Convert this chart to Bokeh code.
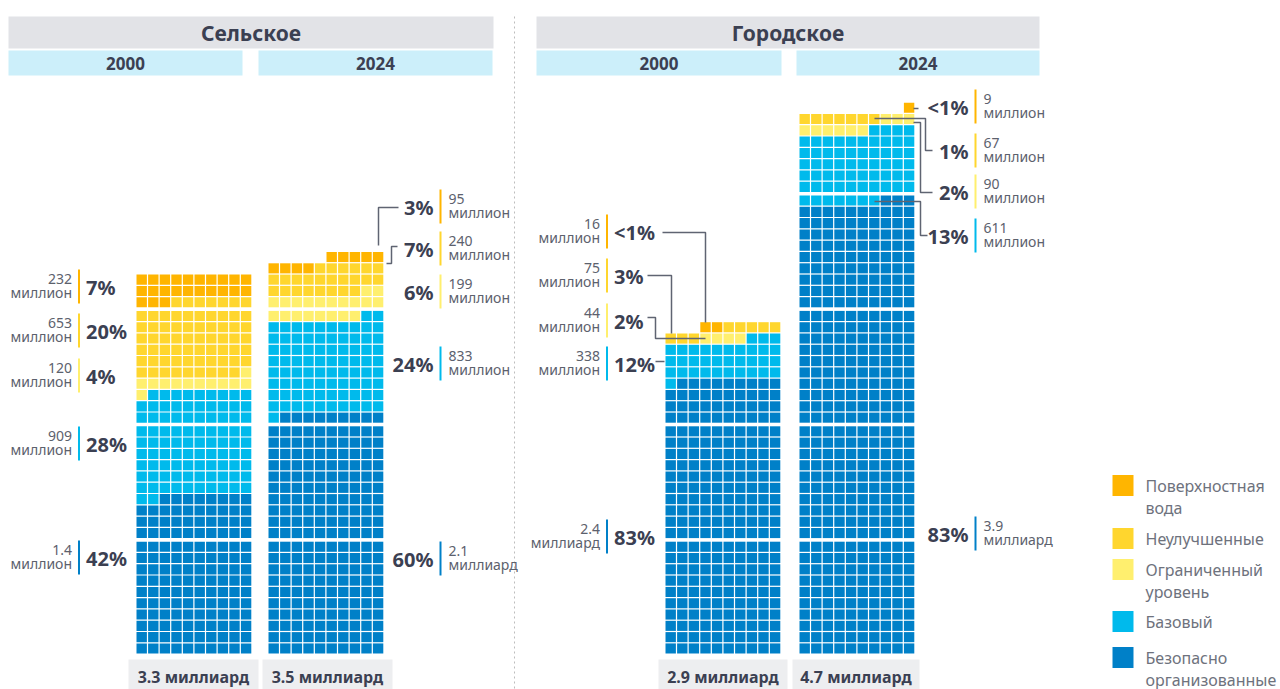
from bokeh.plotting import figure
from bokeh.models import Range1d
from bokeh.core.properties import value
from bokeh.embed import file_html
from bokeh.resources import INLINE

# ---------------- DATA ----------------
categories = ["Поверхностная вода", "Неулучшенные", "Ограниченный уровень",
              "Базовый", "Безопасно организованные"]
legend_lines = [["Поверхностная", "вода"], ["Неулучшенные"], ["Ограниченный", "уровень"],
                ["Базовый"], ["Безопасно", "организованные"]]
groups = ["Сельское", "Городское"]
years = ["2000", "2024", "2000", "2024"]

# cells of 10 million people each, order: surface, unimproved, limited, basic, safely managed
rural_2000_cells = [23, 66, 12, 91, 138]
rural_2024_cells = [9, 24, 20, 83, 209]
urban_2000_cells = [2, 8, 4, 34, 239]
urban_2024_cells = [1, 7, 9, 61, 393]

rural_2000_pct = ["7%", "20%", "4%", "28%", "42%"]
rural_2024_pct = ["3%", "7%", "6%", "24%", "60%"]
urban_2000_pct = ["<1%", "3%", "2%", "12%", "83%"]
urban_2024_pct = ["<1%", "1%", "2%", "13%", "83%"]

rural_2000_num = ["232", "653", "120", "909", "1.4"]
rural_2024_num = ["95", "240", "199", "833", "2.1"]
urban_2000_num = ["16", "75", "44", "338", "2.4"]
urban_2024_num = ["9", "67", "90", "611", "3.9"]

rural_2000_unit = ["миллион", "миллион", "миллион", "миллион", "миллион"]
rural_2024_unit = ["миллион", "миллион", "миллион", "миллион", "миллиард"]
urban_2000_unit = ["миллион", "миллион", "миллион", "миллион", "миллиард"]
urban_2024_unit = ["миллион", "миллион", "миллион", "миллион", "миллиард"]

totals = ["3.3 миллиард", "3.5 миллиард", "2.9 миллиард", "4.7 миллиард"]

# ---------------- STYLE / LAYOUT ----------------
colors = ["#FFB500", "#FFD62E", "#FFEF6E", "#00BAEC", "#0080C8"]
FONT = value("Noto Sans")
DARK = "#3B4052"
GREY = "#5C616D"
LINE = "#5F6472"

PX, CW = 11.6, 10.4      # horizontal pitch / cell width
PY, CH = 11.3, 10.1      # vertical pitch / cell height
GAP = 2.4                # extra gap every 10 rows
BASE = 653               # bottom of grids

panels = [
    dict(cells=rural_2000_cells, pct=rural_2000_pct, num=rural_2000_num, unit=rural_2000_unit,
         x0=136, side="left", line_x=78.5, ys=[286, 330, 375, 443, 557]),
    dict(cells=rural_2024_cells, pct=rural_2024_pct, num=rural_2024_num, unit=rural_2024_unit,
         x0=268, side="right", line_x=440, ys=[206, 248, 291, 363, 558]),
    dict(cells=urban_2000_cells, pct=urban_2000_pct, num=urban_2000_num, unit=urban_2000_unit,
         x0=665, side="left", line_x=606.5, ys=[231, 275, 320, 363, 536]),
    dict(cells=urban_2024_cells, pct=urban_2024_pct, num=urban_2024_num, unit=urban_2024_unit,
         x0=799, side="right", line_x=975, ys=[106, 150, 191, 235, 533]),
]

group_bars = [(8, 493), (536, 1039)]
year_bars = [(8, 242), (258, 492), (536, 781), (796, 1039)]
total_boxes = [(128, 258), (262, 392), (658, 787), (792, 919)]

connectors = [
    [(398, 207), (378, 207), (378, 245)],
    [(397, 246), (391, 246), (391, 263), (386, 263)],
    [(662, 232), (705, 232), (705, 322)],
    [(647, 275), (671, 275), (671, 333)],
    [(647, 317), (655, 317), (655, 338), (705, 338)],
    [(655, 361), (664, 361)],
    [(913, 108), (918, 108)],
    [(874, 118), (925, 118), (925, 150), (932, 150)],
    [(913, 122), (920, 122), (920, 192), (932, 192)],
    [(874, 201), (920, 201), (920, 235), (927, 235)],
]

# ---------------- FIGURE ----------------
W, H = 1280, 689
p = figure(width=W, height=H, x_range=Range1d(0, W), y_range=Range1d(H, 0),
           output_backend="svg", toolbar_location=None, min_border=0,
           x_axis_location=None, y_axis_location=None)
p.grid.visible = False
p.outline_line_color = None
p.background_fill_color = "white"
p.border_fill_color = "white"

# header bars
p.quad(left=[a for a, b in group_bars], right=[b for a, b in group_bars],
       top=[16] * 2, bottom=[48] * 2, fill_color="#E2E3E7", line_color=None)
p.quad(left=[a for a, b in year_bars], right=[b for a, b in year_bars],
       top=[50] * 4, bottom=[75] * 4, fill_color="#CCEFFA", line_color=None)
p.text(x=[(a + b) / 2 for a, b in group_bars], y=[32, 32], text=groups,
       text_font=FONT, text_font_size="21px", text_font_style="bold",
       text_color=DARK, text_align="center", text_baseline="middle")
p.text(x=[(a + b) / 2 for a, b in year_bars], y=[62.5] * 4, text=years,
       text_font=FONT, text_font_size="17px", text_font_style="bold",
       text_color=DARK, text_align="center", text_baseline="middle")

# divider
p.line(x=[514, 514], y=[16, 690], line_color="#BDBDBD", line_dash="2 3", line_width=1)

# waffle cells
L, R, T, B, C = [], [], [], [], []
for pan in panels:
    idx = 0
    # fill from bottom: safely managed first, then basic, limited, unimproved, surface
    for k in range(4, -1, -1):
        for _ in range(pan["cells"][k]):
            r = idx // 10
            c = 9 - idx % 10
            left = pan["x0"] + c * PX
            bottom = BASE - r * PY - (r // 10) * GAP
            L.append(left); R.append(left + CW)
            B.append(bottom); T.append(bottom - CH)
            C.append(colors[k])
            idx += 1
p.quad(left=L, right=R, top=T, bottom=B, fill_color=C, line_color=None)

# labels
for pan in panels:
    lx = pan["line_x"]
    ys = pan["ys"]
    p.segment(x0=[lx] * 5, x1=[lx] * 5, y0=[y - 17 for y in ys], y1=[y + 17 for y in ys],
              line_color=colors, line_width=2)
    if pan["side"] == "left":
        nx, na, px_, pa = lx - 7, "right", lx + 7, "left"
    else:
        nx, na, px_, pa = lx + 8, "left", lx - 7, "right"
    p.text(x=[nx] * 5, y=[y - 8 for y in ys], text=pan["num"], text_font=FONT,
           text_font_size="14px", text_color=GREY, text_align=na, text_baseline="middle")
    p.text(x=[nx] * 5, y=[y + 6 for y in ys], text=pan["unit"], text_font=FONT,
           text_font_size="14px", text_color=GREY, text_align=na, text_baseline="middle")
    p.text(x=[px_] * 5, y=[y + 1 for y in ys], text=pan["pct"], text_font=FONT,
           text_font_size="20px", text_font_style="bold", text_color=DARK,
           text_align=pa, text_baseline="middle")

# connectors
p.multi_line(xs=[[a for a, b in c] for c in connectors], ys=[[b for a, b in c] for c in connectors],
             line_color=LINE, line_width=1.5)

# totals
p.quad(left=[a for a, b in total_boxes], right=[b for a, b in total_boxes],
       top=[659] * 4, bottom=[690] * 4, fill_color="#EDEEF0", line_color=None)
p.text(x=[(a + b) / 2 for a, b in total_boxes], y=[676] * 4, text=totals,
       text_font=FONT, text_font_size="16px", text_font_style="bold",
       text_color=DARK, text_align="center", text_baseline="middle")

# legend
leg_y = [485, 538, 569, 621, 657]
p.quad(left=[1112] * 5, right=[1133] * 5, top=[y - 10.5 for y in leg_y],
       bottom=[y + 10.5 for y in leg_y], fill_color=colors, line_color=None)
lx_, ly_, lt_ = [], [], []
for y, lines in zip(leg_y, legend_lines):
    for j, t in enumerate(lines):
        lx_.append(1145); ly_.append(y + j * 22); lt_.append(t)
p.text(x=lx_, y=ly_, text=lt_, text_font=FONT, text_font_size="16px",
       text_color="#6E727D", text_align="left", text_baseline="middle")

open("out.html", "w").write(file_html(p, INLINE))
